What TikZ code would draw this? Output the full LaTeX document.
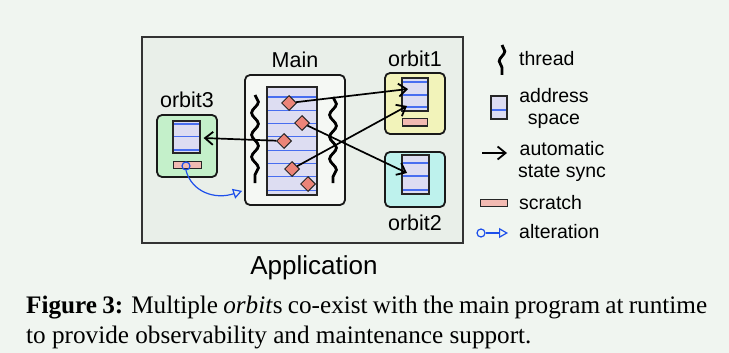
\documentclass[tikz,border=0pt]{standalone}
\usepackage{fontspec}
\setmainfont{Liberation Serif}
\setsansfont{Liberation Sans}
\usepackage{tikz}
\usetikzlibrary{positioning,shapes.geometric,arrows.meta,decorations.pathmorphing}

\definecolor{pagebg}{RGB}{240,245,240}
\definecolor{appfill}{RGB}{233,239,233}
\definecolor{mainfill}{RGB}{245,248,244}
\definecolor{asfill}{RGB}{221,221,242}
\definecolor{asline}{RGB}{72,110,240}
\definecolor{scrfill}{RGB}{242,186,178}
\definecolor{statefill}{RGB}{236,132,120}
\definecolor{ofill1}{RGB}{242,243,186}
\definecolor{ofill2}{RGB}{190,242,237}
\definecolor{ofill3}{RGB}{196,240,202}
\definecolor{altblue}{RGB}{30,80,235}

\tikzset{
  appbox/.style={draw=black!80,line width=2.6pt,fill=appfill,inner sep=0},
  mainbox/.style={draw=black!90,line width=1.8pt,fill=mainfill,rounded corners=5pt,inner sep=0},
  orbitbox/.style={draw=black!90,line width=1.8pt,rounded corners=5pt,inner sep=0},
  addr/.style={draw=black!85,line width=1.2pt,fill=asfill,inner sep=0},
  scratchbar/.style={draw=black!85,line width=1pt,fill=scrfill,inner sep=0},
  state/.style={diamond,draw=black!85,line width=1pt,fill=statefill,minimum size=15pt,inner sep=0},
  aline/.style={asline,line width=1.1pt},
  thread/.style={line width=2.8pt,decorate,decoration={snake,segment length=22pt,amplitude=3.4pt}},
  sync/.style={line width=1.7pt,-{Straight Barb[length=8pt,width=13pt,line width=1.8pt]}},
  alter/.style={altblue,line width=1.2pt,-{Triangle[open,length=9pt,width=10pt,line width=1.2pt]}},
  lbl/.style={font=\sffamily\fontsize{21.5}{24}\selectfont,inner sep=0},
  legend/.style={font=\sffamily\fontsize{19.5}{22}\selectfont,inner sep=0,anchor=west},
  captext/.style={anchor=base west,inner sep=0,font=\fontsize{25.2}{30}\selectfont},
}

\begin{document}
\begin{tikzpicture}[x=1pt,y=-1pt]
 \fill[pagebg] (0,0) rectangle (729,353);
 \useasboundingbox (0,0) rectangle (729,353);

 % application frame
 \node[appbox,minimum width=321pt,minimum height=206pt] (app) at (302.5,140) {};
 \node[lbl,font=\sffamily\fontsize{26}{28}\selectfont] (applbl) at (314,268) {Application};

 % main program
 \node[mainbox,minimum width=100pt,minimum height=130pt] (main) at (295,140) {};
 \node[lbl,above=6pt of main] (mainlbl) {Main};
 \node[addr,minimum width=50pt,minimum height=108pt] (mainas) at (292,141) {};
 \foreach \y in {97,110.3,...,191} \draw[aline] (268,\y) -- (316,\y);
 \draw[thread] (255,95) -- (255,183);
 \draw[thread] (333,97) -- (333,183);

 % orbit1
 \node[orbitbox,fill=ofill1,minimum width=60pt,minimum height=61pt] (orb1) at (415,103.5) {};
 \node[lbl,above=5pt of orb1] (orb1lbl) {orbit1};
 \node[addr,minimum width=26pt,minimum height=33pt] (o1as) at (415,94.5) {};
 \foreach \y in {82,95,107} \draw[aline] (403,\y) -- (427,\y);
 \node[scratchbar,minimum width=25pt,minimum height=7pt] (o1scr) at (414.5,122.5) {};

 % orbit2
 \node[orbitbox,fill=ofill2,minimum width=60pt,minimum height=55pt] (orb2) at (415,179.5) {};
 \node[lbl,below=7pt of orb2] (orb2lbl) {orbit2};
 \node[addr,minimum width=27pt,minimum height=39pt] (o2as) at (415.5,174.5) {};
 \foreach \y in {163,176,190} \draw[aline] (403,\y) -- (428,\y);

 % orbit3
 \node[orbitbox,fill=ofill3,minimum width=60pt,minimum height=62pt] (orb3) at (187,146) {};
 \node[lbl,above=6pt of orb3] (orb3lbl) {orbit3};
 \node[addr,minimum width=27pt,minimum height=32pt] (o3as) at (186.5,137) {};
 \foreach \y in {124,136.5,150} \draw[aline] (174,\y) -- (199,\y);
 \node[scratchbar,minimum width=28pt,minimum height=7pt] (o3scr) at (187,164.5) {};

 % synced state in main
 \node[state] (d1) at (289,103) {};
 \node[state] (d2) at (302,123) {};
 \node[state] (d3) at (284,141) {};
 \node[state] (d4) at (292,169) {};
 \node[state] (d5) at (308,184) {};

 \draw[sync] (d1) -- ([xshift=-7pt,yshift=5.5pt]o1as.center);
 \draw[sync] (d4) -- ([xshift=-8pt,yshift=-11.5pt]o1as.center);
 \draw[sync] (d2) -- ([xshift=-8.5pt,yshift=1.5pt]o2as.center);
 \draw[sync] (d3) -- ([xshift=3pt,yshift=-1pt]o3as.east);

 % alteration from orbit3 into main
 \node[circle,draw=altblue,line width=1.2pt,minimum size=8pt,inner sep=0] (alt) at (186,166) {};
 \coordinate (alttip) at ([xshift=-2pt,yshift=15pt]main.south west);
 \draw[alter] (alt.south) .. controls (192,192) and (215,200) .. (alttip);

 % legend
 \draw[thread,decoration={segment length=20pt,amplitude=2.8pt}] (502,45) -- (502,75);
 \node[legend] (lthread) at (519,59) {thread};
 \node[addr,minimum width=16pt,minimum height=23pt] (las) at (499,107.5) {};
 \draw[aline] (492,110) -- (506,110);
 \node[legend,anchor=center,align=center] (lasl) at (554,108) {address\\space};
 \coordinate (lsyncs) at (482,153);
 \coordinate (lsynce) at (507,153);
 \draw[sync] (lsyncs) -- (lsynce);
 \node[legend,anchor=center,align=center] (lsyncl) at (562,161.5) {automatic\\state sync};
 \node[scratchbar,minimum width=27pt,minimum height=7pt] (lscr) at (493.5,202.5) {};
 \node[legend] (lscrl) at (519,203) {scratch};
 \node[circle,draw=altblue,line width=1.2pt,minimum size=8pt,inner sep=0] (lalt) at (481,233) {};
 \coordinate (lalte) at (508,233);
 \draw[alter] (lalt) -- (lalte);
 \node[legend] (laltl) at (519,232) {alteration};

 % caption, first line set tight to the column
 \node[captext] (cap1) at (26,313)
   {\makebox[681pt][s]{\textbf{Figure 3:} Multiple \textit{orbit}s co-exist with the main program at runtime}};
 \node[captext] (cap2) at (26,343)
   {to provide observability and maintenance support.};
\end{tikzpicture}
\end{document}
